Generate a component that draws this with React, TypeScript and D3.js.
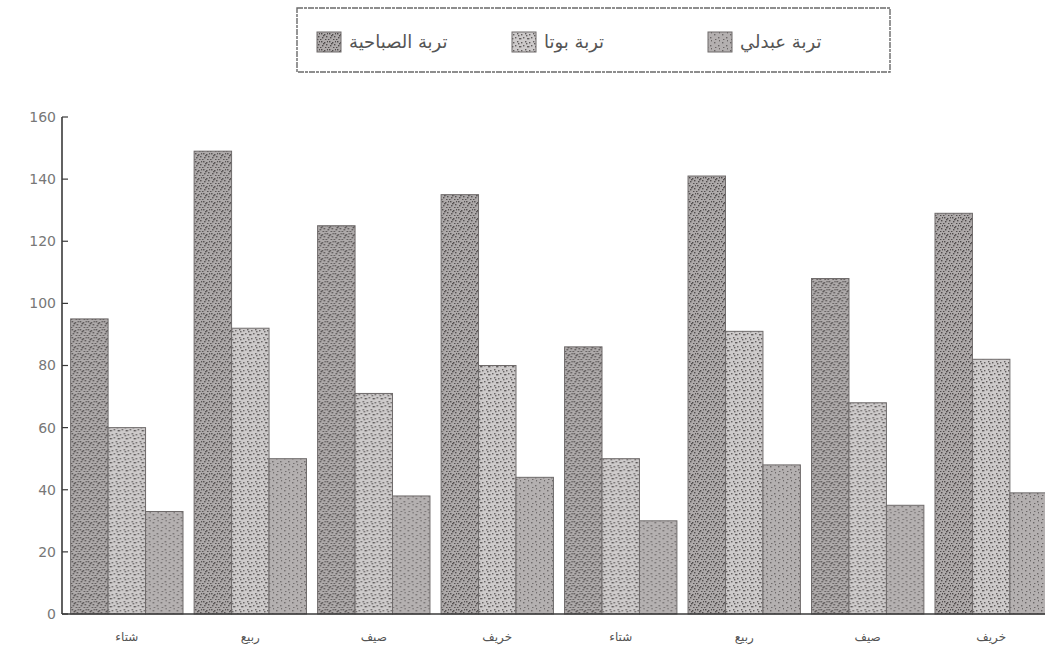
import React, {useEffect, useRef} from 'react'
import * as d3 from 'd3'

const width = 1045
const height = 668

const seasons = ['شتاء', 'ربيع', 'صيف', 'خريف', 'شتاء', 'ربيع', 'صيف', 'خريف']
const seriesNames = ['تربة الصباحية', 'تربة بوتا', 'تربة عبدلي']
const sabahiya = [95, 149, 125, 135, 86, 141, 108, 129]
const buta = [60, 92, 71, 80, 50, 91, 68, 82]
const abdali = [33, 50, 38, 44, 30, 48, 35, 39]
const yTicks = [0, 20, 40, 60, 80, 100, 120, 140, 160]

const seriesValues = [sabahiya, buta, abdali]
const fills = ['url(#pat0)', 'url(#pat1)', 'url(#pat2)']

// stipple tiles: base colour, dot colour, dot positions
const patterns = [
  {base: '#aeaaaa', dot: '#4e4a4a', dots: [[1, 1], [4, 2], [2, 5], [6, 4], [5, 7], [0, 7], [7, 1], [3, 3]]},
  {base: '#cdcaca', dot: '#605c5c', dots: [[1, 2], [5, 1], [3, 5], [7, 6], [0, 6], [6, 3]]},
  {base: '#b4b0b0', dot: '#6a6666', dots: [[2, 2], [6, 5], [3, 7], [7, 0]]},
]

const App = () => {
  const ref = useRef(null)

  useEffect(() => {
    const svg = d3.select(ref.current)
    svg.selectAll('*').remove()

    const defs = svg.append('defs')
    patterns.forEach((p, i) => {
      const pat = defs
        .append('pattern')
        .attr('id', `pat${i}`)
        .attr('width', 8)
        .attr('height', 8)
        .attr('patternUnits', 'userSpaceOnUse')
      pat.append('rect').attr('width', 8).attr('height', 8).attr('fill', p.base)
      pat
        .selectAll('rect.d')
        .data(p.dots)
        .enter()
        .append('rect')
        .attr('class', 'd')
        .attr('x', d => d[0])
        .attr('y', d => d[1])
        .attr('width', 1.4)
        .attr('height', 1.4)
        .attr('fill', p.dot)
    })

    const x0 = d3
      .scaleBand()
      .domain(d3.range(seasons.length).map(String))
      .range([62, 1056])
      .paddingInner(0.09)
      .paddingOuter(0.07)

    const x1 = d3
      .scaleBand()
      .domain(['0', '1', '2'])
      .range([0, x0.bandwidth()])

    const y = d3.scaleLinear().domain([0, 160]).range([614, 117])

    const groups = svg
      .selectAll('g.grp')
      .data(seasons.map((s, i) => i))
      .enter()
      .append('g')
      .attr('class', 'grp')
      .attr('transform', i => `translate(${x0(String(i))},0)`)

    groups
      .selectAll('rect')
      .data(i => seriesValues.map((vals, s) => ({s, v: vals[i]})))
      .enter()
      .append('rect')
      .attr('x', d => x1(String(d.s)))
      .attr('y', d => y(d.v))
      .attr('width', x1.bandwidth())
      .attr('height', d => y(0) - y(d.v))
      .attr('fill', d => fills[d.s])
      .attr('stroke', '#6f6b6b')
      .attr('stroke-width', 1)

    // axes
    const axis = svg.append('g').attr('stroke', '#3a3a3a').attr('fill', 'none')
    axis.append('line').attr('x1', 62).attr('x2', 62).attr('y1', y(160)).attr('y2', y(0)).attr('stroke-width', 1.6)
    axis.append('line').attr('x1', 62).attr('x2', width).attr('y1', y(0)).attr('y2', y(0)).attr('stroke-width', 1.6)
    axis
      .selectAll('line.tk')
      .data(yTicks)
      .enter()
      .append('line')
      .attr('class', 'tk')
      .attr('x1', 62)
      .attr('x2', 68)
      .attr('y1', d => y(d))
      .attr('y2', d => y(d))
      .attr('stroke-width', 1.2)

    svg
      .append('g')
      .selectAll('text')
      .data(yTicks)
      .enter()
      .append('text')
      .attr('x', 56)
      .attr('y', d => y(d))
      .attr('dy', '0.35em')
      .attr('text-anchor', 'end')
      .style('font-family', 'DejaVu Sans')
      .style('font-size', '14px')
      .attr('fill', '#777')
      .text(d => d)

    svg
      .append('g')
      .selectAll('text')
      .data(seasons)
      .enter()
      .append('text')
      .attr('x', (d, i) => x0(String(i)) + x0.bandwidth() / 2)
      .attr('y', 641)
      .attr('text-anchor', 'middle')
      .style('font-family', 'DejaVu Sans')
      .style('font-size', '12px')
      .attr('fill', '#555')
      .text(d => d)

    // legend
    const lg = svg.append('g')
    lg.append('rect')
      .attr('x', 297)
      .attr('y', 8)
      .attr('width', 593)
      .attr('height', 64)
      .attr('fill', 'none')
      .attr('stroke', '#6a6a6a')
      .attr('stroke-width', 1.4)
      .attr('stroke-dasharray', '6 1 3 1')
    const legendX = [317, 512, 708]
    seriesNames.forEach((name, i) => {
      lg.append('rect')
        .attr('x', legendX[i])
        .attr('y', 32)
        .attr('width', 24)
        .attr('height', 20)
        .attr('fill', fills[i])
        .attr('stroke', '#6f6b6b')
      lg.append('text')
        .attr('x', legendX[i] + 32)
        .attr('y', 48)
        .attr('direction', 'rtl')
        .attr('text-anchor', 'end')
        .style('font-family', 'DejaVu Sans')
        .style('font-size', '18px')
        .attr('fill', '#555')
        .text(name)
    })
  }, [])

  return (
    <div style={{position: 'absolute', left: 0, top: 0}}>
      <svg ref={ref} width={width} height={height} style={{display: 'block', background: '#fff'}}></svg>
    </div>
  )
}

export default App
